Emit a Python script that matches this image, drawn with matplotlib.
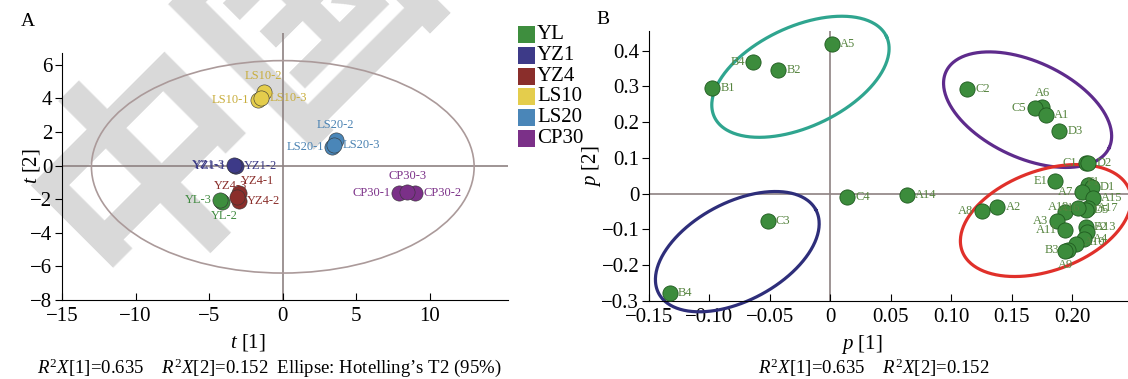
import numpy as np
import matplotlib.pyplot as plt
from matplotlib.patches import Ellipse, Rectangle

plt.rcParams['font.family'] = ['Liberation Serif', 'DejaVu Serif']
plt.rcParams['mathtext.fontset'] = 'custom'
plt.rcParams['mathtext.rm'] = 'Liberation Serif'
plt.rcParams['mathtext.it'] = 'Liberation Serif:italic'

# ---- panel A: scores ----
groups = ['YL', 'YZ1', 'YZ4', 'LS10', 'LS20', 'CP30']
group_colors = ['#3e8e3e', '#3d3a88', '#8a2e2b', '#e4cd4c', '#4a86b8', '#7b3088']
text_colors = ['#3f8a3f', '#3b3a85', '#8a2e2b', '#c8ad3c', '#4a82b2', '#7b3088']

score_names = ['YL-1', 'YL-2', 'YL-3', 'YZ1-1', 'YZ1-2', 'YZ1-3',
               'YZ4-1', 'YZ4-2', 'YZ4-3', 'LS10-1', 'LS10-2', 'LS10-3',
               'LS20-1', 'LS20-2', 'LS20-3', 'CP30-1', 'CP30-2', 'CP30-3']
score_group = [0, 0, 0, 1, 1, 1, 2, 2, 2, 3, 3, 3, 4, 4, 4, 5, 5, 5]
score_t1 = [-4.2, -4.15, -4.25, -3.25, -3.2, -3.3, -3.0, -3.0, -3.1,
            -1.7, -1.3, -1.45, 3.35, 3.6, 3.5, 7.9, 9.0, 8.45]
score_t2 = [-2.1, -2.15, -2.05, 0.0, -0.05, 0.05, -1.6, -2.1, -1.85,
            3.9, 4.4, 4.05, 1.1, 1.5, 1.25, -1.6, -1.6, -1.55]

# label placement (offset in points, alignment)
score_lab = {
    'YL-1': None, 'YL-2': (2, -10, 'center'), 'YL-3': (-6, 0, 'right'),
    'YZ1-1': (-6, 0, 'right'), 'YZ1-2': (6, 0, 'left'), 'YZ1-3': (-6.5, 0, 'right'),
    'YZ4-1': (2, 8, 'left'), 'YZ4-2': (6, 0, 'left'), 'YZ4-3': (-5, 8, 'center'),
    'LS10-1': (-6, 0, 'right'), 'LS10-2': (0, 11, 'center'), 'LS10-3': (6, 0, 'left'),
    'LS20-1': (-6, 0, 'right'), 'LS20-2': (0, 11, 'center'), 'LS20-3': (6, 0, 'left'),
    'CP30-1': (-6, 0, 'right'), 'CP30-2': (6, 0, 'left'), 'CP30-3': (0, 11, 'center'),
}

# ---- panel B: loadings ----
load_names = ['A5', 'B4', 'B2', 'B1', 'C2', 'A6', 'C5', 'A1', 'D3', 'C1', 'D2',
              'E1', 'F1', 'D1', 'A7', 'A15', 'A17', 'D5', 'A12', 'A16', 'A8', 'A2',
              'A3', 'A11', 'E2', 'A13', 'A4', 'A10', 'B3', 'A9', 'C4', 'A14', 'C3', 'B4']
load_p1 = [0.001, -0.064, -0.043, -0.098, 0.113, 0.175, 0.169, 0.178, 0.189, 0.211, 0.213,
           0.186, 0.213, 0.216, 0.208, 0.217, 0.213, 0.211, 0.194, 0.205, 0.125, 0.138,
           0.187, 0.194, 0.211, 0.212, 0.210, 0.203, 0.196, 0.194, 0.014, 0.063, -0.052, -0.133]
load_p2 = [0.419, 0.369, 0.346, 0.296, 0.293, 0.243, 0.240, 0.221, 0.176, 0.087, 0.087,
           0.036, 0.025, 0.020, 0.006, -0.011, -0.039, -0.045, -0.050, -0.039, -0.047, -0.036,
           -0.075, -0.101, -0.092, -0.106, -0.128, -0.142, -0.156, -0.160, -0.008, -0.003, -0.075, -0.277]

load_lab = {
    'A5': (6, 0, 'left'), 'B2': (6, 0, 'left'), 'B1': (6, 0, 'left'),
    'C2': (6, 0, 'left'), 'A6': (0, 10, 'center'), 'C5': (-6, 0, 'right'),
    'A1': (6, 0, 'left'), 'D3': (6, 0, 'left'), 'C1': (-6, 0, 'right'),
    'D2': (6, 0, 'left'), 'E1': (-6, 0, 'right'), 'F1': (-1, 2, 'left'),
    'D1': (6, 0, 'left'), 'A7': (-6, 0, 'right'), 'A15': (6, 0, 'left'),
    'A17': (6, 0, 'left'), 'D5': (6, 0, 'left'), 'A12': (-5, 3, 'center'),
    'A16': (-6, 0, 'center'), 'A8': (-6, 0, 'right'), 'A2': (6, 0, 'left'),
    'A3': (-6, 0, 'right'), 'A11': (-6, 0, 'right'), 'E2': (6, 0, 'left'),
    'A13': (6, 3, 'left'), 'A4': (6, 0, 'left'), 'A10': (6, 2, 'left'),
    'B3': (-6, 0, 'right'), 'A9': (0, -10, 'center'), 'C4': (6, 0, 'left'),
    'A14': (6, 0, 'left'), 'C3': (6, 0, 'left'), 'B4': None,
}

# ellipses drawn on panel B: centre (data), semi-axes (px), tilt (deg), colour
clusters = [
    ((-0.0248, 0.327), 95, 50, 25, '#2fa58f'),
    ((0.163, 0.235), 90, 48, -25, '#5e2b8c'),
    ((0.178, -0.075), 89, 50, 20, '#e0302a'),
    ((-0.077, -0.162), 89, 49, 28, '#2e2e7a'),
]

W, H = 1128, 379
fig = plt.figure(figsize=(W / 100, H / 100), dpi=100)

# watermark
fig.text(235 / W, 1 - 85 / H, '中国', family=['Noto Sans CJK SC', 'DejaVu Sans'],
         fontsize=165, weight='bold', color='#d9d9d9', rotation=45,
         ha='center', va='center', rotation_mode='anchor', zorder=-5)

zc = '#8e8282'
tfs = 15

axA = fig.add_axes([62 / W, 1 - 300 / H, 446 / W, 267 / H])
axA.patch.set_alpha(0)
axA.set_xlim(-15, 15.3)
axA.set_ylim(-8, 7.9)
axA.axhline(0, color=zc, lw=1.2, zorder=1)
axA.axvline(0, color=zc, lw=1.2, zorder=1)
axA.add_patch(Ellipse((0, -0.07), 26, 12.65, fill=False, ec='#ab9a9a', lw=1.2, zorder=1))

for name, g, x, y in zip(score_names, score_group, score_t1, score_t2):
    axA.scatter(x, y, s=120, color=group_colors[g], edgecolors='#333333',
                linewidths=0.4, zorder=3)
for name, g, x, y in zip(score_names, score_group, score_t1, score_t2):
    lab = score_lab[name]
    if lab is None:
        continue
    axA.annotate(name, (x, y), xytext=lab[:2], textcoords='offset points',
                 ha=lab[2], va='center', fontsize=9, color=text_colors[g], zorder=4)

axA.set_xticks([-15, -10, -5, 0, 5, 10])
axA.set_xticklabels(['\u221215', '\u221210', '\u22125', '0', '5', '10'])
axA.set_yticks(range(-8, 7, 2))
axA.set_yticklabels([('\u2212' + str(-v)) if v < 0 else str(v) for v in range(-8, 7, 2)])
axA.spines['top'].set_visible(False)
axA.spines['right'].set_visible(False)
axA.spines['left'].set_bounds(-8, 6.7)
axA.tick_params(axis='x', direction='in', length=5, labelsize=tfs, pad=5)
axA.tick_params(axis='y', direction='out', length=5, labelsize=tfs, pad=2)
axA.set_xlabel('$t$ [1]', fontsize=15)
axA.set_ylabel('$t$ [2]', fontsize=15)
axA.xaxis.set_label_coords(0.417, -0.12)
axA.yaxis.set_label_coords(-0.045, 0.5)

# legend
for i, (g, c) in enumerate(zip(groups, group_colors)):
    yc = 34.5 + 20.8 * i
    fig.add_artist(Rectangle((518 / W, 1 - (yc + 8.5) / H), 17 / W, 17 / H,
                             transform=fig.transFigure, color=c, lw=0))
    fig.text(537 / W, 1 - yc / H, g, fontsize=15, va='center', ha='left')

# ---- panel B ----
axB = fig.add_axes([649 / W, 1 - 301 / H, 479 / W, 270 / H])
axB.patch.set_alpha(0)
xl, yl = (-0.15, 0.246), (-0.3, 0.455)
axB.set_xlim(*xl)
axB.set_ylim(*yl)
axB.axhline(0, color=zc, lw=1.2, zorder=1)
axB.axvline(0, color=zc, lw=1.2, zorder=1)

for name, x, y in zip(load_names, load_p1, load_p2):
    axB.scatter(x, y, s=120, color='#3c8c3c', edgecolors='#1f5a1f',
                linewidths=0.6, zorder=3)
for k, (name, x, y) in enumerate(zip(load_names, load_p1, load_p2)):
    lab = load_lab[name]
    if lab is None:
        lab = (-6, 0, 'right') if k == 1 else (6, 0, 'left')
    axB.annotate(name, (x, y), xytext=lab[:2], textcoords='offset points',
                 ha=lab[2], va='center', fontsize=9, color='#56843f', zorder=4)

sx = 479 / (xl[1] - xl[0])
sy = 270 / (yl[1] - yl[0])
phi = np.linspace(0, 2 * np.pi, 300)
for (cx, cy), a, b, ang, col in clusters:
    th = np.radians(ang)
    ex = a * np.cos(phi) * np.cos(th) - b * np.sin(phi) * np.sin(th)
    ey = a * np.cos(phi) * np.sin(th) + b * np.sin(phi) * np.cos(th)
    axB.plot(cx + ex / sx, cy + ey / sy, color=col, lw=2.3, zorder=2, clip_on=False)

bx = [-0.15, -0.10, -0.05, 0, 0.05, 0.10, 0.15, 0.20]
axB.set_xticks(bx)
axB.set_xticklabels(['0' if v == 0 else ('%.2f' % v).replace('-', '\u2212') for v in bx])
by = [-0.3, -0.2, -0.1, 0, 0.1, 0.2, 0.3, 0.4]
axB.set_yticks(by)
axB.set_yticklabels(['0' if v == 0 else ('%.1f' % v).replace('-', '\u2212') for v in by])
axB.spines['top'].set_visible(False)
axB.spines['right'].set_visible(False)
axB.tick_params(axis='x', direction='in', length=5, labelsize=tfs, pad=5)
axB.tick_params(axis='y', direction='out', length=5, labelsize=tfs, pad=2)
axB.set_xlabel('$p$ [1]', fontsize=15)
axB.set_ylabel('$p$ [2]', fontsize=15)
axB.xaxis.set_label_coords(0.445, -0.12)
axB.yaxis.set_label_coords(-0.095, 0.5)

fig.text(28 / W, 1 - 22 / H, 'A', fontsize=14, va='center', ha='center')
fig.text(603 / W, 1 - 20 / H, 'B', fontsize=14, va='center', ha='center')
fig.text(37 / W, 1 - 368 / H,
         '$R^2X$[1]=0.635    $R^2X$[2]=0.152  Ellipse: Hotelling\u2019s T2 (95%)',
         fontsize=13.5, va='center', ha='left')
fig.text(758 / W, 1 - 368 / H, '$R^2X$[1]=0.635    $R^2X$[2]=0.152',
         fontsize=13.5, va='center', ha='left')

fig.savefig('out.png', dpi=100)
